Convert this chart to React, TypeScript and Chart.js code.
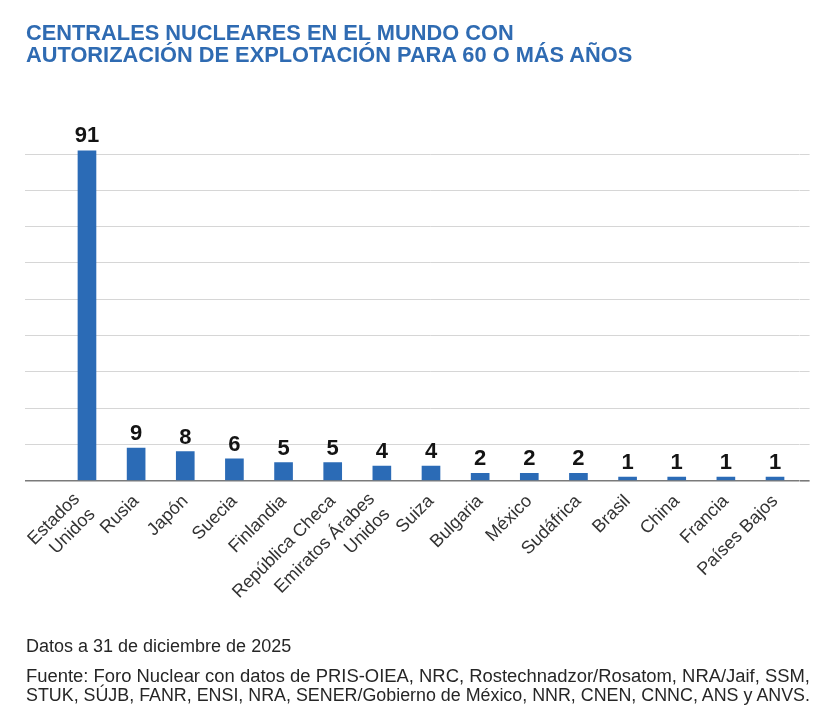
import React, { useEffect, useLayoutEffect, useRef } from "react";
import { Chart, registerables } from "chart.js";

Chart.register(...registerables);

const categories: (string | string[])[] = [
  ["Estados", "Unidos"],
  "Rusia",
  "Japón",
  "Suecia",
  "Finlandia",
  "República Checa",
  ["Emiratos Árabes", "Unidos"],
  "Suiza",
  "Bulgaria",
  "México",
  "Sudáfrica",
  "Brasil",
  "China",
  "Francia",
  "Países Bajos",
];

const values = [91, 9, 8, 6, 5, 5, 4, 4, 2, 2, 2, 1, 1, 1, 1];

const gridValues = [0, 10, 20, 30, 40, 50, 60, 70, 80, 90];

const titleLines = [
  "CENTRALES NUCLEARES EN EL MUNDO CON",
  "AUTORIZACIÓN DE EXPLOTACIÓN PARA 60 O MÁS AÑOS",
];

const noteLine = "Datos a 31 de diciembre de 2025";
const sourceLines = [
  "Fuente: Foro Nuclear con datos de PRIS-OIEA, NRC, Rostechnadzor/Rosatom, NRA/Jaif, SSM,",
  "STUK, SÚJB, FANR, ENSI, NRA, SENER/Gobierno de México, NNR, CNEN, CNNC, ANS y ANVS.",
];

const FONT = '"Liberation Sans", Arial, Helvetica, sans-serif';
const BAR_COLOR = "#2b6bb6";
const GRID_COLOR = "#d6d6d6";
const BASE_COLOR = "#7a7a7a";
const SOURCE_WIDTH = 784;

const valueLabels = {
  id: "valueLabels",
  afterDatasetsDraw(chart: any) {
    const ctx = chart.ctx;
    const meta = chart.getDatasetMeta(0);
    ctx.save();
    ctx.font = `bold 22px ${FONT}`;
    ctx.fillStyle = "#141414";
    ctx.textAlign = "center";
    ctx.textBaseline = "alphabetic";
    meta.data.forEach((el: any, i: number) => {
      ctx.fillText(String(values[i]), el.x, el.y - 8);
    });
    ctx.restore();
  },
};

// Nudge two-line category labels so their block sits around the tick, as in the original.
const multiLineLabelShift = {
  id: "multiLineLabelShift",
  beforeDraw(chart: any) {
    const s = chart.scales.x;
    if (!s) return;
    const items = s.getLabelItems(chart.chartArea);
    items.forEach((it: any) => {
      if (Array.isArray(it.label) && it.label.length > 1 && !it.__shifted) {
        const [tx, ty] = it.options.translation;
        it.options.translation = [tx - 10, ty - 2];
        it.__shifted = true;
      }
    });
  },
};

const setGridTicks = (s: any) => {
  s.ticks = gridValues.map((v) => ({ value: v }));
};

const gridColor = (c: any) => (c.tick && c.tick.value === 0 ? BASE_COLOR : GRID_COLOR);
const gridWidth = (c: any) => (c.tick && c.tick.value === 0 ? 1.6 : 1);

export default function App() {
  const ref = useRef<HTMLCanvasElement | null>(null);
  const srcRefs = useRef<(HTMLSpanElement | null)[]>([]);

  useLayoutEffect(() => {
    srcRefs.current.forEach((el) => {
      if (!el) return;
      el.style.transform = "none";
      const w = el.getBoundingClientRect().width;
      if (w > 0) el.style.transform = `scaleX(${SOURCE_WIDTH / w})`;
    });
  }, []);

  useEffect(() => {
    if (!ref.current) return;
    const chart = new Chart(ref.current, {
      type: "bar",
      data: {
        labels: categories,
        datasets: [
          {
            data: values,
            backgroundColor: BAR_COLOR,
            barThickness: 18,
            borderWidth: 0,
          },
        ],
      },
      options: {
        responsive: false,
        maintainAspectRatio: false,
        animation: false,
        layout: { padding: { top: 150.4, left: 25, right: 23.4, bottom: 113.3 } },
        plugins: {
          legend: { display: false },
          tooltip: { enabled: false },
          title: { display: false },
        },
        scales: {
          x: {
            offset: true,
            grid: { display: false, drawTicks: false },
            border: { display: false },
            ticks: {
              autoSkip: false,
              minRotation: 45,
              maxRotation: 45,
              padding: 10,
              color: "#333333",
              font: { family: FONT, size: 18 },
            },
            afterFit: (s: any) => {
              s.height = 130;
            },
          },
          y: {
            position: "left",
            min: 0,
            max: 91,
            ticks: { display: false },
            grid: {
              color: gridColor,
              lineWidth: gridWidth,
              drawTicks: true,
              tickLength: 37.4,
            },
            border: { display: false },
            afterBuildTicks: setGridTicks,
          },
          y2: {
            position: "right",
            min: 0,
            max: 91,
            ticks: { display: false },
            grid: {
              color: gridColor,
              lineWidth: gridWidth,
              drawOnChartArea: false,
              drawTicks: true,
              tickLength: 10,
            },
            border: { display: false },
            afterBuildTicks: setGridTicks,
          },
        },
      },
      plugins: [multiLineLabelShift, valueLabels],
    } as any);
    return () => chart.destroy();
  }, []);

  const lineStyle = (top: number, size: number, lh: number, color: string, weight: number) => ({
    position: "absolute" as const,
    left: 26,
    top,
    fontSize: size,
    lineHeight: `${lh}px`,
    fontWeight: weight,
    color,
    whiteSpace: "nowrap" as const,
    fontFamily: FONT,
  });

  return (
    <div
      style={{
        position: "absolute",
        left: 0,
        top: 0,
        width: 833,
        height: 724,
        background: "#ffffff",
        overflow: "hidden",
      }}
    >
      <canvas
        ref={ref}
        width={833}
        height={724}
        style={{ position: "absolute", left: 0, top: 0, display: "block" }}
      />
      {titleLines.map((t, i) => (
        <div key={"t" + i} style={lineStyle(22.4 + i * 22, 21.8, 22, "#2f6bb2", 700)}>
          {t}
        </div>
      ))}
      <div style={lineStyle(635.5, 18, 20, "#262626", 400)}>{noteLine}</div>
      {sourceLines.map((t, i) => (
        <div key={"s" + i} style={lineStyle(665.5 + i * 19, 18, 20, "#262626", 400)}>
          <span
            ref={(el) => {
              srcRefs.current[i] = el;
            }}
            style={{ display: "inline-block", transformOrigin: "0 0" }}
          >
            {t}
          </span>
        </div>
      ))}
    </div>
  );
}
